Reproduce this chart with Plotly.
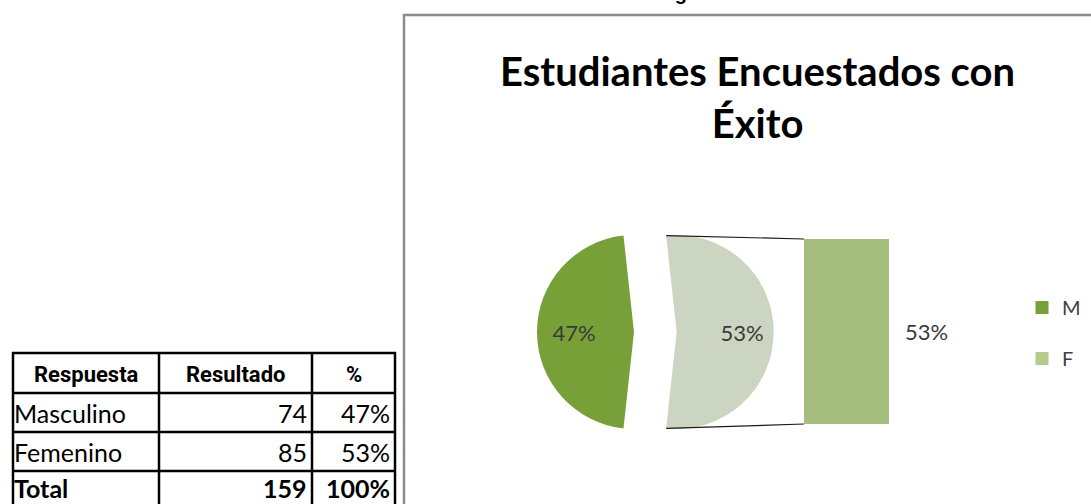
import plotly.graph_objects as go
import math

W, H = 1091, 504

# ---------------- data ----------------
header = ["Respuesta", "Resultado", "%"]
respuestas = ["Masculino", "Femenino", "Total"]
resultados_tabla = ["74", "85", "159"]
porcentajes_tabla = ["47%", "53%", "100%"]

pie_labels = ["M", "F"]
pie_values = [74, 85]

bar_labels = ["F"]
bar_values = [53]
bar_text = ["53%"]

legend_names = ["M", "F"]

title_text = "Estudiantes Encuestados con<br>Éxito"
caption_text = "Figura 6"

# ---------------- helpers ----------------
def px(x):
    return x / W

def py(y):
    return 1 - y / H

FONT = "Lato, 'Open Sans', sans-serif"
NARROW = "Roboto, 'Liberation Sans', sans-serif"
NB = "\u00a0"

M_COLOR = "#78a039"
F_COLOR = "#ccd5c1"
BAR_COLOR = "#a6be7d"
F_LEGEND = "#b4cb8c"

fig = go.Figure()

# ---------------- main pie ----------------
cx, cy, r, pull = 634, 332, 97, 0.44
half = r * (1 + pull)
share_m = pie_values[0] / sum(pie_values)
rotation = -90 - 180 * share_m   # first slice (M) centred at 9 o'clock

fig.add_trace(go.Pie(
    labels=pie_labels, values=pie_values, sort=False,
    direction="counterclockwise", rotation=rotation,
    pull=[0, pull],
    marker=dict(colors=[M_COLOR, F_COLOR], line=dict(width=0)),
    texttemplate=["%{percent:.0%}" + NB * 4, NB * 6 + "%{percent:.0%}"],
    textposition="inside",
    insidetextorientation="horizontal",
    textfont=dict(family=FONT, size=22, color="#3a3a3a"),
    domain=dict(x=[px(cx - half), px(cx + half)], y=[py(cy + half), py(cy - half)]),
    showlegend=False, hoverinfo="label+percent",
))

# ---------------- secondary bar ----------------
bar_x0, bar_x1, bar_top, bar_bot = 804, 889, 239, 424
fig.add_trace(go.Bar(
    x=bar_labels, y=bar_values, width=1,
    marker=dict(color=BAR_COLOR, line=dict(width=0)),
    xaxis="x", yaxis="y", showlegend=False, hoverinfo="x+y",
))

# legend entries
for name, col in zip(legend_names, [M_COLOR, F_LEGEND]):
    fig.add_trace(go.Scatter(
        x=[None], y=[None], mode="markers", name=name, legendgroup=name,
        marker=dict(symbol="square", size=13, color=col),
        xaxis="x", yaxis="y",
    ))

shapes = []
annotations = []

# connector lines from the pulled slice edges to the bar corners
theta_bot = math.radians(rotation)
theta_top = math.radians(rotation + 360 * share_m)
off = pull * r
for th, by in [(theta_top, bar_top), (theta_bot, bar_bot)]:
    sx = cx + off + r * math.sin(th)
    sy = cy - r * math.cos(th)
    shapes.append(dict(type="line", xref="paper", yref="paper",
                       x0=px(sx), y0=py(sy), x1=px(bar_x0), y1=py(by),
                       line=dict(color="#1a1a1a", width=1.2)))

# bar label
annotations.append(dict(xref="x", yref="y", x=0.5, y=bar_values[0] / 2,
                        text=bar_text[0], showarrow=False, xanchor="left",
                        xshift=14, font=dict(family=FONT, size=22, color="#3a3a3a")))

# chart frame
shapes.append(dict(type="rect", xref="paper", yref="paper", layer="below",
                   x0=px(404), x1=1.02, y0=-0.05, y1=py(15),
                   line=dict(color="#8c8c8c", width=2.5), fillcolor="rgba(0,0,0,0)"))

# title
annotations.append(dict(xref="paper", yref="paper", x=px(757), y=py(97),
                        xanchor="center", yanchor="middle", showarrow=False,
                        text=title_text,
                        font=dict(family=FONT, size=40, weight="bold", color="#000000")))

# caption, cut at the top edge
annotations.append(dict(xref="paper", yref="paper", x=px(696), y=1,
                        xanchor="center", yanchor="bottom", yshift=-6, showarrow=False,
                        text=caption_text,
                        font=dict(family="'Liberation Sans', Arial, sans-serif", size=20,
                                  weight="bold", color="#000000")))

# ---------------- table ----------------
col_x = [13, 159, 312, 395]
row_y = [353, 393, 432, 471, 510]
for x in col_x:
    shapes.append(dict(type="line", xref="paper", yref="paper",
                       x0=px(x), x1=px(x), y0=py(row_y[0] - 1), y1=py(row_y[-1]),
                       line=dict(color="#000000", width=2.5)))
for y in row_y:
    shapes.append(dict(type="line", xref="paper", yref="paper",
                       x0=px(col_x[0] - 1), x1=px(col_x[-1] + 1), y0=py(y), y1=py(y),
                       line=dict(color="#000000", width=2.5)))

hy = (row_y[0] + row_y[1]) / 2
for i, h in enumerate(header):
    annotations.append(dict(xref="paper", yref="paper",
                            x=px((col_x[i] + col_x[i + 1]) / 2), y=py(hy + 1),
                            xanchor="center", yanchor="middle", showarrow=False, text=h,
                            font=dict(family=NARROW, size=22, weight="bold", color="#000000")))

for j in range(len(respuestas)):
    yc = (row_y[j + 1] + row_y[j + 2]) / 2
    if j == len(respuestas) - 1:
        yc = min(yc, 488)
    bold = "bold" if j == len(respuestas) - 1 else "normal"
    f = dict(family=FONT, size=25, weight=bold, color="#000000")
    annotations.append(dict(xref="paper", yref="paper", x=px(col_x[0] - 1), y=py(yc),
                            xanchor="left", yanchor="middle", showarrow=False,
                            text=respuestas[j], font=f))
    annotations.append(dict(xref="paper", yref="paper", x=px(col_x[2] - 3), y=py(yc),
                            xanchor="right", yanchor="middle", showarrow=False,
                            text=resultados_tabla[j], font=f))
    annotations.append(dict(xref="paper", yref="paper", x=px(col_x[3] - 3), y=py(yc),
                            xanchor="right", yanchor="middle", showarrow=False,
                            text=porcentajes_tabla[j], font=f))

fig.update_layout(
    width=W, height=H,
    margin=dict(l=0, r=0, t=0, b=0),
    paper_bgcolor="white", plot_bgcolor="rgba(0,0,0,0)",
    xaxis=dict(domain=[px(bar_x0), px(bar_x1)], range=[-0.5, 0.5], visible=False,
               fixedrange=True),
    yaxis=dict(domain=[py(bar_bot), py(bar_top)], range=[0, sum(bar_values)],
               visible=False, fixedrange=True),
    showlegend=True,
    legend=dict(x=px(1022), y=py(288), xanchor="left", yanchor="top",
                font=dict(family=FONT, size=20, color="#404040"),
                tracegroupgap=22, itemwidth=30, bgcolor="rgba(0,0,0,0)"),
    shapes=shapes,
    annotations=annotations,
)

fig.write_html("out.html", config={"displayModeBar": False},
               post_script="document.body.style.margin='0px';")
